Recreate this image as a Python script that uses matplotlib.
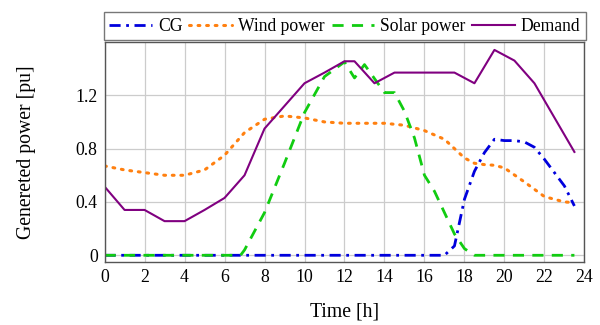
import numpy as np
import matplotlib
matplotlib.use("Agg")
import matplotlib.pyplot as plt

plt.rcParams['font.family'] = ['Liberation Serif', 'DejaVu Serif']

# values
t_cg = [0, 1, 2, 3, 4, 5, 6, 7, 8, 9, 10, 11, 12, 13, 14, 15, 16, 17, 17.5, 18,
        18.5, 19, 19.5, 20, 20.5, 21, 21.5, 22, 22.5, 23, 23.5]
cg = [0, 0, 0, 0, 0, 0, 0, 0, 0, 0, 0, 0, 0, 0, 0, 0, 0, 0, 0.07, 0.42,
      0.63, 0.77, 0.87, 0.86, 0.86, 0.85, 0.81, 0.72, 0.62, 0.52, 0.37]

t_wind = [0, 1, 2, 3, 4, 5, 6, 7, 8, 9, 10, 11, 12, 13, 14, 15, 16, 17, 17.5,
          18, 18.5, 19, 19.5, 20, 21, 22, 23, 23.5]
wind = [0.67, 0.64, 0.62, 0.60, 0.60, 0.64, 0.75, 0.92, 1.02, 1.045, 1.03, 1.0,
        0.99, 0.99, 0.99, 0.975, 0.935, 0.87, 0.80, 0.73, 0.69, 0.68, 0.675,
        0.655, 0.55, 0.44, 0.40, 0.395]

t_solar = [0, 1, 2, 3, 4, 5, 6, 6.8, 7, 8, 9, 10, 11, 12, 12.5, 13, 14, 14.5,
           15, 15.5, 16, 16.5, 17, 17.5, 18, 18.5, 19, 20, 21, 22, 23, 23.5]
solar = [0, 0, 0, 0, 0, 0, 0, 0, 0.04, 0.32, 0.69, 1.07, 1.34, 1.45, 1.33, 1.43,
         1.22, 1.22, 1.08, 0.88, 0.60, 0.48, 0.32, 0.16, 0.05, 0, 0, 0, 0, 0, 0, 0]

t_dem = [0, 1, 2, 3, 4, 5, 6, 7, 8, 9, 10, 11, 12, 12.5, 13.5, 14.5, 15.5, 16.5,
         17.5, 18.5, 19.5, 20.5, 21.5, 23.5]
demand = [0.515, 0.34, 0.34, 0.256, 0.256, 0.34, 0.43, 0.60, 0.95, 1.12, 1.29,
          1.37, 1.455, 1.455, 1.29, 1.37, 1.37, 1.37, 1.37, 1.29, 1.54, 1.46,
          1.29, 0.775]

fig = plt.figure(figsize=(6, 3.25), dpi=100)
ax = fig.add_axes([0.1743, 0.194, 0.7997, 0.677])

ax.plot(t_cg, cg, color='#0000dd', lw=2.0, linestyle=(0, (4, 2, 1, 2)), label='CG')
ax.plot(t_wind, wind, color='#ff8010', lw=2.2, linestyle=(0, (0.6, 2.2)),
        dash_capstyle='round', label='Wind power')
ax.plot(t_solar, solar, color='#11cc11', lw=2.0, linestyle=(0, (4, 3)), label='Solar power')
ax.plot(t_dem, demand, color='#800080', lw=1.5, label='Demand')

ax.set_xlim(0, 24)
ax.set_ylim(-0.05, 1.6)
ax.set_xticks(np.arange(0, 25, 2))
ax.set_yticks([0, 0.4, 0.8, 1.2])
ax.set_yticklabels(['0', '0.4', '0.8', '1.2'])
ax.grid(True, color='#cccccc', lw=0.9)
ax.set_axisbelow(True)
ax.tick_params(length=0, labelsize=12.8, pad=5)
for s in ax.spines.values():
    s.set_color('#555555')
    s.set_linewidth(1.0)

ax.set_xlabel('Time [h]', fontsize=14.2, labelpad=12)
ax.set_ylabel('Genereted power [pu]', fontsize=14.2, labelpad=28)

fig.legend(loc='lower left', bbox_to_anchor=(0.1733, 0.877), ncol=4,
           fontsize=12.7, frameon=True, fancybox=False, edgecolor='#555555',
           handlelength=2.4, columnspacing=0.4, handletextpad=0.35,
           borderpad=0.3, borderaxespad=0)

fig.savefig('out.png', dpi=100)
